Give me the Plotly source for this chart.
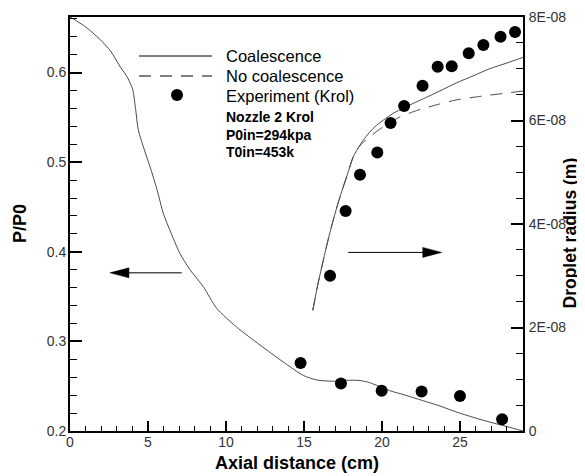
import plotly.graph_objects as go

# ---------------- data ----------------
# Pressure ratio (coalescence model), left axis
p_x = [0, 1.0, 1.92, 2.6, 3.2, 3.7, 4.02, 4.2, 4.38, 4.8, 5.13, 5.6, 5.98, 6.62, 7.05,
       7.69, 8.55, 9.4, 10.68, 12.18, 13.67, 14.96, 15.81, 16.88, 17.95, 18.6, 19.2,
       20.5, 21.5, 22.6, 23.7, 24.8, 25.9, 26.9, 28.0, 29.04]
p_y = [0.662, 0.651, 0.637, 0.624, 0.607, 0.594, 0.581, 0.560, 0.536, 0.512, 0.495,
       0.468, 0.443, 0.415, 0.398, 0.380, 0.361, 0.337, 0.316, 0.296, 0.277, 0.262,
       0.257, 0.2555, 0.2567, 0.2563, 0.254, 0.245, 0.240, 0.234, 0.228, 0.221, 0.215,
       0.210, 0.205, 0.200]

# Pressure ratio experiment (Krol)
pe_x = [14.78, 17.37, 19.98, 22.54, 25.0, 27.7]
pe_y = [0.276, 0.253, 0.245, 0.244, 0.239, 0.213]

# Droplet radius, coalescence (right axis)
rc_x = [15.56, 15.9, 16.24, 16.55, 16.88, 17.2, 17.52, 17.85, 18.16, 18.5, 18.8, 19.2,
        19.66, 20.1, 20.72, 21.4, 22.0, 22.65, 23.7, 24.8, 25.9, 26.9, 28.0, 29.04]
rc_y = [2.33e-8, 2.85e-8, 3.30e-8, 3.70e-8, 4.08e-8, 4.42e-8, 4.72e-8, 5.02e-8, 5.30e-8,
        5.48e-8, 5.62e-8, 5.77e-8, 5.91e-8, 6.01e-8, 6.14e-8, 6.24e-8, 6.33e-8, 6.42e-8,
        6.57e-8, 6.73e-8, 6.87e-8, 7.00e-8, 7.11e-8, 7.22e-8]

# Droplet radius, no coalescence
rn_x = [15.56, 15.9, 16.24, 16.55, 16.88, 17.2, 17.52, 17.85, 18.16, 18.5, 18.8, 19.0,
        19.66, 20.1, 21.15, 22.3, 22.65, 23.7, 24.8, 25.9, 26.9, 28.0, 29.04]
rn_y = [2.33e-8, 2.85e-8, 3.30e-8, 3.70e-8, 4.08e-8, 4.42e-8, 4.72e-8, 5.02e-8, 5.30e-8,
        5.48e-8, 5.58e-8, 5.63e-8, 5.79e-8, 5.88e-8, 6.07e-8, 6.20e-8, 6.23e-8, 6.32e-8,
        6.40e-8, 6.45e-8, 6.49e-8, 6.53e-8, 6.57e-8]

# Droplet radius experiment (Krol)
re_x = [16.67, 17.67, 18.59, 19.70, 20.55, 21.42, 22.60, 23.57, 24.47, 25.56, 26.50, 27.60, 28.53]
re_y = [3.00e-8, 4.25e-8, 4.95e-8, 5.38e-8, 5.95e-8, 6.28e-8, 6.67e-8, 7.04e-8, 7.05e-8,
        7.30e-8, 7.46e-8, 7.62e-8, 7.71e-8]

x_ticks = [0, 5, 10, 15, 20, 25]
left_ticks = [0.2, 0.3, 0.4, 0.5, 0.6]
left_tick_text = ["0.2", "0.3", "0.4", "0.5", "0.6"]
right_ticks = [0, 2e-8, 4e-8, 6e-8, 8e-8]
right_tick_text = ["0", "2E-08", "4E-08", "6E-08", "8E-08"]

legend_labels = ["Coalescence", "No coalescence", "Experiment (Krol)"]
info_lines = ["Nozzle 2 Krol", "P0in=294kpa", "T0in=453k"]

# ---------------- figure ----------------
FONT = "Arial, Liberation Sans, sans-serif"
LINE_C = "#4a4a4a"

fig = go.Figure()
fig.add_trace(go.Scatter(x=p_x, y=p_y, mode="lines",
                         line=dict(color=LINE_C, width=1, shape="spline", smoothing=0.7),
                         yaxis="y", showlegend=False))
fig.add_trace(go.Scatter(x=pe_x, y=pe_y, mode="markers",
                         marker=dict(color="black", size=12), yaxis="y", showlegend=False))
fig.add_trace(go.Scatter(x=rn_x, y=rn_y, mode="lines",
                         line=dict(color=LINE_C, width=1, dash="12px,9px", shape="spline",
                                   smoothing=0.7),
                         yaxis="y2", showlegend=False))
fig.add_trace(go.Scatter(x=rc_x, y=rc_y, mode="lines",
                         line=dict(color=LINE_C, width=1, shape="spline", smoothing=0.7),
                         yaxis="y2", showlegend=False))
fig.add_trace(go.Scatter(x=re_x, y=re_y, mode="markers",
                         marker=dict(color="black", size=12), yaxis="y2", showlegend=False))

# page body has an 8px margin: figure is placed at (8, 8) in the window
OFF = 8
W, H = 585 - OFF, 476 - OFF
PL, PR, PT, PB = 70, 523, 17, 431          # plot-area edges in window pixels
L, T = PL - OFF, PT - OFF
R = W - (PR - OFF)
B = H - (PB - OFF)
PW, PH = PR - PL, PB - PT


def px(xp):
    return (xp - PL) / PW


def py(yp):
    return (PB - yp) / PH


tickfont = dict(family=FONT, size=14, color="#333333")

shapes = []
annotations = []

# legend samples
shapes.append(dict(type="line", xref="paper", yref="paper", x0=px(139), x1=px(212),
                   y0=py(56), y1=py(56), line=dict(color="black", width=1)))
shapes.append(dict(type="line", xref="paper", yref="paper", x0=px(139), x1=px(212),
                   y0=py(76), y1=py(76), line=dict(color="black", width=1, dash="12px,9px")))
shapes.append(dict(type="circle", xref="paper", yref="paper", x0=px(171), x1=px(183),
                   y0=py(89), y1=py(101), fillcolor="black", line=dict(color="black", width=0)))

for txt, yp in zip(legend_labels, [56, 76, 96]):
    annotations.append(dict(text=txt, xref="paper", yref="paper", x=px(224), y=py(yp),
                            xanchor="left", yanchor="middle", showarrow=False,
                            font=dict(family=FONT, size=16.5, color="black")))
for txt, yp in zip(info_lines, [117, 134.5, 152]):
    annotations.append(dict(text="<b>%s</b>" % txt, xref="paper", yref="paper", x=px(224),
                            y=py(yp), xanchor="left", yanchor="middle", showarrow=False,
                            font=dict(family=FONT, size=14, color="black")))

# arrows (left: toward P/P0 axis, right: toward droplet axis)
arr_y_left = 0.3765
arr_y_right = 0.3993
shapes.append(dict(type="line", xref="x", yref="y", x0=7.16, x1=3.2, y0=arr_y_left,
                   y1=arr_y_left, line=dict(color="black", width=1)))
shapes.append(dict(type="path", xref="x", yref="y", xsizemode="pixel", ysizemode="pixel",
                   xanchor=2.56, yanchor=arr_y_left, path="M0,0 L19,5 L19,-5 Z",
                   fillcolor="black", line=dict(color="black", width=0.5)))
shapes.append(dict(type="line", xref="x", yref="y", x0=17.84, x1=23.2, y0=arr_y_right,
                   y1=arr_y_right, line=dict(color="black", width=1)))
shapes.append(dict(type="path", xref="x", yref="y", xsizemode="pixel", ysizemode="pixel",
                   xanchor=23.83, yanchor=arr_y_right, path="M0,0 L-19,5 L-19,-5 Z",
                   fillcolor="black", line=dict(color="black", width=0.5)))

# axis titles
annotations.append(dict(text="<b>Axial distance (cm)</b>", xref="paper", yref="paper",
                        x=0.5, y=py(463), xanchor="center", yanchor="middle", showarrow=False,
                        font=dict(family=FONT, size=18, color="black")))
annotations.append(dict(text="<b>P/P0</b>", xref="paper", yref="paper", x=px(20), y=py(224),
                        xanchor="center", yanchor="middle", showarrow=False, textangle=-90,
                        font=dict(family=FONT, size=18, color="black")))
annotations.append(dict(text="<b>Droplet radius (m)</b>", xref="paper", yref="paper",
                        x=px(569.5), y=py(233), xanchor="center", yanchor="middle",
                        showarrow=False, textangle=-90,
                        font=dict(family=FONT, size=17.5, color="black")))

fig.update_layout(
    width=W, height=H,
    margin=dict(l=L, r=R, t=T, b=B, autoexpand=False),
    paper_bgcolor="white", plot_bgcolor="white",
    showlegend=False,
    xaxis=dict(range=[0, 29.04], tickvals=x_ticks, ticks="inside", ticklen=10, tickwidth=1.5,
               tickcolor="black", showline=True, linewidth=2, linecolor="black", mirror=True,
               showgrid=False, zeroline=False, tickfont=tickfont, ticklabelstandoff=-3,
               minor=dict(dtick=1, ticks="inside", ticklen=5, tickwidth=1, tickcolor="black",
                          showgrid=False)),
    yaxis=dict(range=[0.2, 0.662], tickvals=left_ticks, ticktext=left_tick_text,
               ticks="inside", ticklen=12, tickwidth=1.5, tickcolor="black", showline=True,
               linewidth=2, linecolor="black", showgrid=False, zeroline=False,
               tickfont=tickfont, ticklabelstandoff=-1,
               minor=dict(dtick=0.02, tick0=0.2, ticks="inside", ticklen=7, tickwidth=1,
                          tickcolor="black", showgrid=False)),
    yaxis2=dict(range=[0, 8e-8], overlaying="y", side="right", tickvals=right_ticks,
                ticktext=right_tick_text, ticks="inside", ticklen=12, tickwidth=1.5,
                tickcolor="black", showline=True, linewidth=2, linecolor="black",
                showgrid=False, zeroline=False, tickfont=tickfont, ticklabelstandoff=1,
                minor=dict(dtick=0.5e-8, tick0=0, ticks="inside", ticklen=7, tickwidth=1,
                           tickcolor="black", showgrid=False)),
    shapes=shapes,
    annotations=annotations,
)

fig.write_html("out.html")
